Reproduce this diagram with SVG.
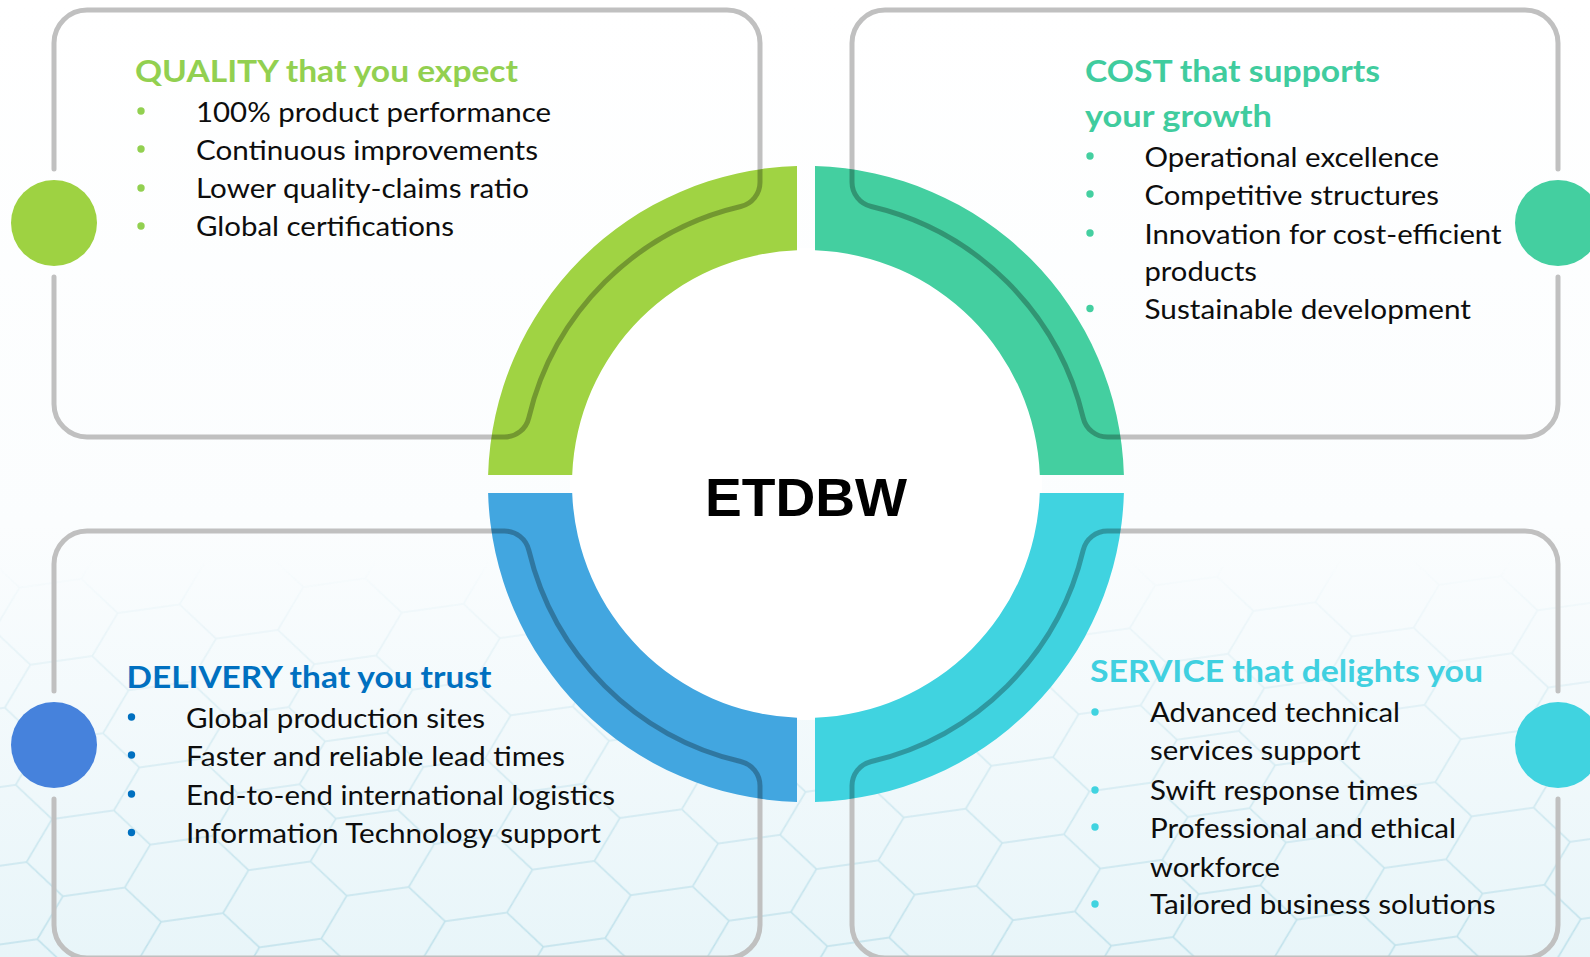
<svg xmlns="http://www.w3.org/2000/svg" width="1590" height="957" viewBox="0 0 1590 957">
<defs>
<style>
.box{fill:none;stroke:#c0c0c0;stroke-width:5;stroke-linecap:round}
.boxdark{fill:none;stroke:#000;stroke-opacity:.28;stroke-width:5;stroke-linecap:round}
.h{font-family:Lato,"Liberation Sans",sans-serif;font-weight:700;font-size:30px}
.t{font-family:Lato,"Liberation Sans",sans-serif;font-size:27px;fill:#0d0d0d}
.title{font-family:"Liberation Sans",Arial,sans-serif;font-weight:700;font-size:53px;fill:#000}
</style>
<linearGradient id="bg" x1="0" y1="0" x2="0" y2="957" gradientUnits="userSpaceOnUse">
<stop offset="0" stop-color="#ffffff"/>
<stop offset="0.55" stop-color="#fbfdfe"/>
<stop offset="1" stop-color="#e8f5f9"/>
</linearGradient>
<linearGradient id="fade" x1="0" y1="560" x2="0" y2="957" gradientUnits="userSpaceOnUse">
<stop offset="0" stop-color="#fff" stop-opacity="0"/>
<stop offset="0.35" stop-color="#fff" stop-opacity="0.4"/>
<stop offset="1" stop-color="#fff" stop-opacity="0.95"/>
</linearGradient>
<mask id="meshmask" maskUnits="userSpaceOnUse" x="0" y="0" width="1590" height="957">
<rect x="0" y="0" width="1590" height="957" fill="url(#fade)"/>
</mask>
<pattern id="hex" width="150" height="86.6" patternUnits="userSpaceOnUse" patternTransform="rotate(-8) scale(1.25 0.9)">
<path d="M0,43.3 L25,0 L75,0 L100,43.3 L75,86.6 L25,86.6 Z M100,43.3 L150,43.3" fill="none" stroke="#bde0ea" stroke-width="1.5"/>
</pattern>
<clipPath id="ringclip">
<path d="M797,166.1 A318,318 0 0 0 488.1,475 L572.2,475 A234,234 0 0 1 797,250.2 Z"/>
<path d="M815,166.1 A318,318 0 0 1 1123.9,475 L1039.8,475 A234,234 0 0 0 815,250.2 Z"/>
<path d="M797,801.9 A318,318 0 0 1 488.1,493 L572.2,493 A234,234 0 0 0 797,717.8 Z"/>
<path d="M815,801.9 A318,318 0 0 0 1123.9,493 L1039.8,493 A234,234 0 0 1 815,717.8 Z"/>
</clipPath>
</defs>

<g id="background">
<rect x="0" y="0" width="1590" height="957" fill="url(#bg)"/>
<rect x="0" y="0" width="1590" height="957" fill="url(#hex)" mask="url(#meshmask)"/>
</g>

<g id="box-outlines">
<path class="box" d="M54,169 L54,43 A33,33 0 0 1 87,10 L727,10 A33,33 0 0 1 760,43 L760,182.2 A25,25 0 0 1 740.7,206.5 A285,285 0 0 0 528.8,417.8 A25,25 0 0 1 504.5,437 L87,437 A33,33 0 0 1 54,404 L54,277"/>
<path class="box" d="M1558,169 L1558,43 A33,33 0 0 0 1525,10 L885,10 A33,33 0 0 0 852,43 L852,182.2 A25,25 0 0 0 871.3,206.5 A285,285 0 0 1 1083.2,417.8 A25,25 0 0 0 1107.5,437 L1525,437 A33,33 0 0 0 1558,404 L1558,277"/>
<path class="box" d="M54,799 L54,925 A33,33 0 0 0 87,958 L727,958 A33,33 0 0 0 760,925 L760,785.8 A25,25 0 0 0 740.7,761.5 A285,285 0 0 1 528.8,550.2 A25,25 0 0 0 504.5,531 L87,531 A33,33 0 0 0 54,564 L54,691"/>
<path class="box" d="M1558,799 L1558,925 A33,33 0 0 1 1525,958 L885,958 A33,33 0 0 1 852,925 L852,785.8 A25,25 0 0 1 871.3,761.5 A285,285 0 0 0 1083.2,550.2 A25,25 0 0 1 1107.5,531 L1525,531 A33,33 0 0 1 1558,564 L1558,691"/>
</g>

<g id="hub">
<circle cx="806" cy="484" r="236" fill="#ffffff"/>
<path fill="#a0d343" d="M797,166.1 A318,318 0 0 0 488.1,475 L572.2,475 A234,234 0 0 1 797,250.2 Z"/>
<path fill="#44cfa0" d="M815,166.1 A318,318 0 0 1 1123.9,475 L1039.8,475 A234,234 0 0 0 815,250.2 Z"/>
<path fill="#42a6e0" d="M797,801.9 A318,318 0 0 1 488.1,493 L572.2,493 A234,234 0 0 0 797,717.8 Z"/>
<path fill="#40d3e0" d="M815,801.9 A318,318 0 0 0 1123.9,493 L1039.8,493 A234,234 0 0 1 815,717.8 Z"/>
<g clip-path="url(#ringclip)">
<path class="boxdark" d="M760,43 L760,182.2 A25,25 0 0 1 740.7,206.5 A285,285 0 0 0 528.8,417.8 A25,25 0 0 1 504.5,437 L87,437"/>
<path class="boxdark" d="M852,43 L852,182.2 A25,25 0 0 0 871.3,206.5 A285,285 0 0 1 1083.2,417.8 A25,25 0 0 0 1107.5,437 L1525,437"/>
<path class="boxdark" d="M760,925 L760,785.8 A25,25 0 0 0 740.7,761.5 A285,285 0 0 1 528.8,550.2 A25,25 0 0 0 504.5,531 L87,531"/>
<path class="boxdark" d="M852,925 L852,785.8 A25,25 0 0 1 871.3,761.5 A285,285 0 0 0 1083.2,550.2 A25,25 0 0 1 1107.5,531 L1525,531"/>
</g>
<text class="title" x="806" y="516" text-anchor="middle" textLength="202" lengthAdjust="spacingAndGlyphs">ETDBW</text>
</g>

<g id="quality">
<circle cx="54" cy="223" r="43" fill="#9ed242"/>
<text class="h" x="135" y="81.5" fill="#92d050" textLength="383" lengthAdjust="spacingAndGlyphs">QUALITY that you expect</text>
<g fill="#92d050">
<circle cx="141" cy="111" r="3.7"/><circle cx="141" cy="149" r="3.7"/><circle cx="141" cy="188" r="3.7"/><circle cx="141" cy="226" r="3.7"/>
</g>
<text class="t" x="196" y="121.5" textLength="355" lengthAdjust="spacingAndGlyphs">100% product performance</text>
<text class="t" x="196" y="159.5" textLength="342" lengthAdjust="spacingAndGlyphs">Continuous improvements</text>
<text class="t" x="196" y="198" textLength="333" lengthAdjust="spacingAndGlyphs">Lower quality-claims ratio</text>
<text class="t" x="196" y="236" textLength="258" lengthAdjust="spacingAndGlyphs">Global certifications</text>
</g>

<g id="cost">
<circle cx="1558" cy="223" r="43" fill="#44cfa0"/>
<text class="h" x="1085" y="81.5" fill="#40cc9e" textLength="295" lengthAdjust="spacingAndGlyphs">COST that supports</text>
<text class="h" x="1085" y="127" fill="#40cc9e" textLength="187" lengthAdjust="spacingAndGlyphs">your growth</text>
<g fill="#44cfa0">
<circle cx="1090" cy="156" r="3.7"/><circle cx="1090" cy="194" r="3.7"/><circle cx="1090" cy="233" r="3.7"/><circle cx="1090" cy="308.5" r="3.7"/>
</g>
<text class="t" x="1144.5" y="166.5" textLength="294.5" lengthAdjust="spacingAndGlyphs">Operational excellence</text>
<text class="t" x="1144.5" y="204.5" textLength="294.5" lengthAdjust="spacingAndGlyphs">Competitive structures</text>
<text class="t" x="1144.5" y="243.5" textLength="357" lengthAdjust="spacingAndGlyphs">Innovation for cost-efficient</text>
<text class="t" x="1144.5" y="281" textLength="112.5" lengthAdjust="spacingAndGlyphs">products</text>
<text class="t" x="1144.5" y="319" textLength="326.5" lengthAdjust="spacingAndGlyphs">Sustainable development</text>
</g>

<g id="delivery">
<circle cx="54" cy="745" r="43" fill="#4682dc"/>
<text class="h" x="126.5" y="688" fill="#0070c0" textLength="365" lengthAdjust="spacingAndGlyphs">DELIVERY that you trust</text>
<g fill="#0070c0">
<circle cx="131.5" cy="717" r="3.7"/><circle cx="131.5" cy="755" r="3.7"/><circle cx="131.5" cy="794" r="3.7"/><circle cx="131.5" cy="832.5" r="3.7"/>
</g>
<text class="t" x="186" y="728" textLength="299" lengthAdjust="spacingAndGlyphs">Global production sites</text>
<text class="t" x="186" y="766" textLength="379" lengthAdjust="spacingAndGlyphs">Faster and reliable lead times</text>
<text class="t" x="186" y="805" textLength="429" lengthAdjust="spacingAndGlyphs">End-to-end international logistics</text>
<text class="t" x="186" y="843" textLength="415" lengthAdjust="spacingAndGlyphs">Information Technology support</text>
</g>

<g id="service">
<circle cx="1558" cy="745" r="43" fill="#40d3e0"/>
<text class="h" x="1090" y="681.5" fill="#40d0e0" textLength="393" lengthAdjust="spacingAndGlyphs">SERVICE that delights you</text>
<g fill="#40d3e0">
<circle cx="1095" cy="712" r="3.7"/><circle cx="1095" cy="790" r="3.7"/><circle cx="1095" cy="827" r="3.7"/><circle cx="1095" cy="904" r="3.7"/>
</g>
<text class="t" x="1150" y="722" textLength="250" lengthAdjust="spacingAndGlyphs">Advanced technical</text>
<text class="t" x="1150" y="760" textLength="210.5" lengthAdjust="spacingAndGlyphs">services support</text>
<text class="t" x="1150" y="800" textLength="268" lengthAdjust="spacingAndGlyphs">Swift response times</text>
<text class="t" x="1150" y="837.5" textLength="306" lengthAdjust="spacingAndGlyphs">Professional and ethical</text>
<text class="t" x="1150" y="877" textLength="130" lengthAdjust="spacingAndGlyphs">workforce</text>
<text class="t" x="1150" y="914" textLength="345.7" lengthAdjust="spacingAndGlyphs">Tailored business solutions</text>
</g>
</svg>
